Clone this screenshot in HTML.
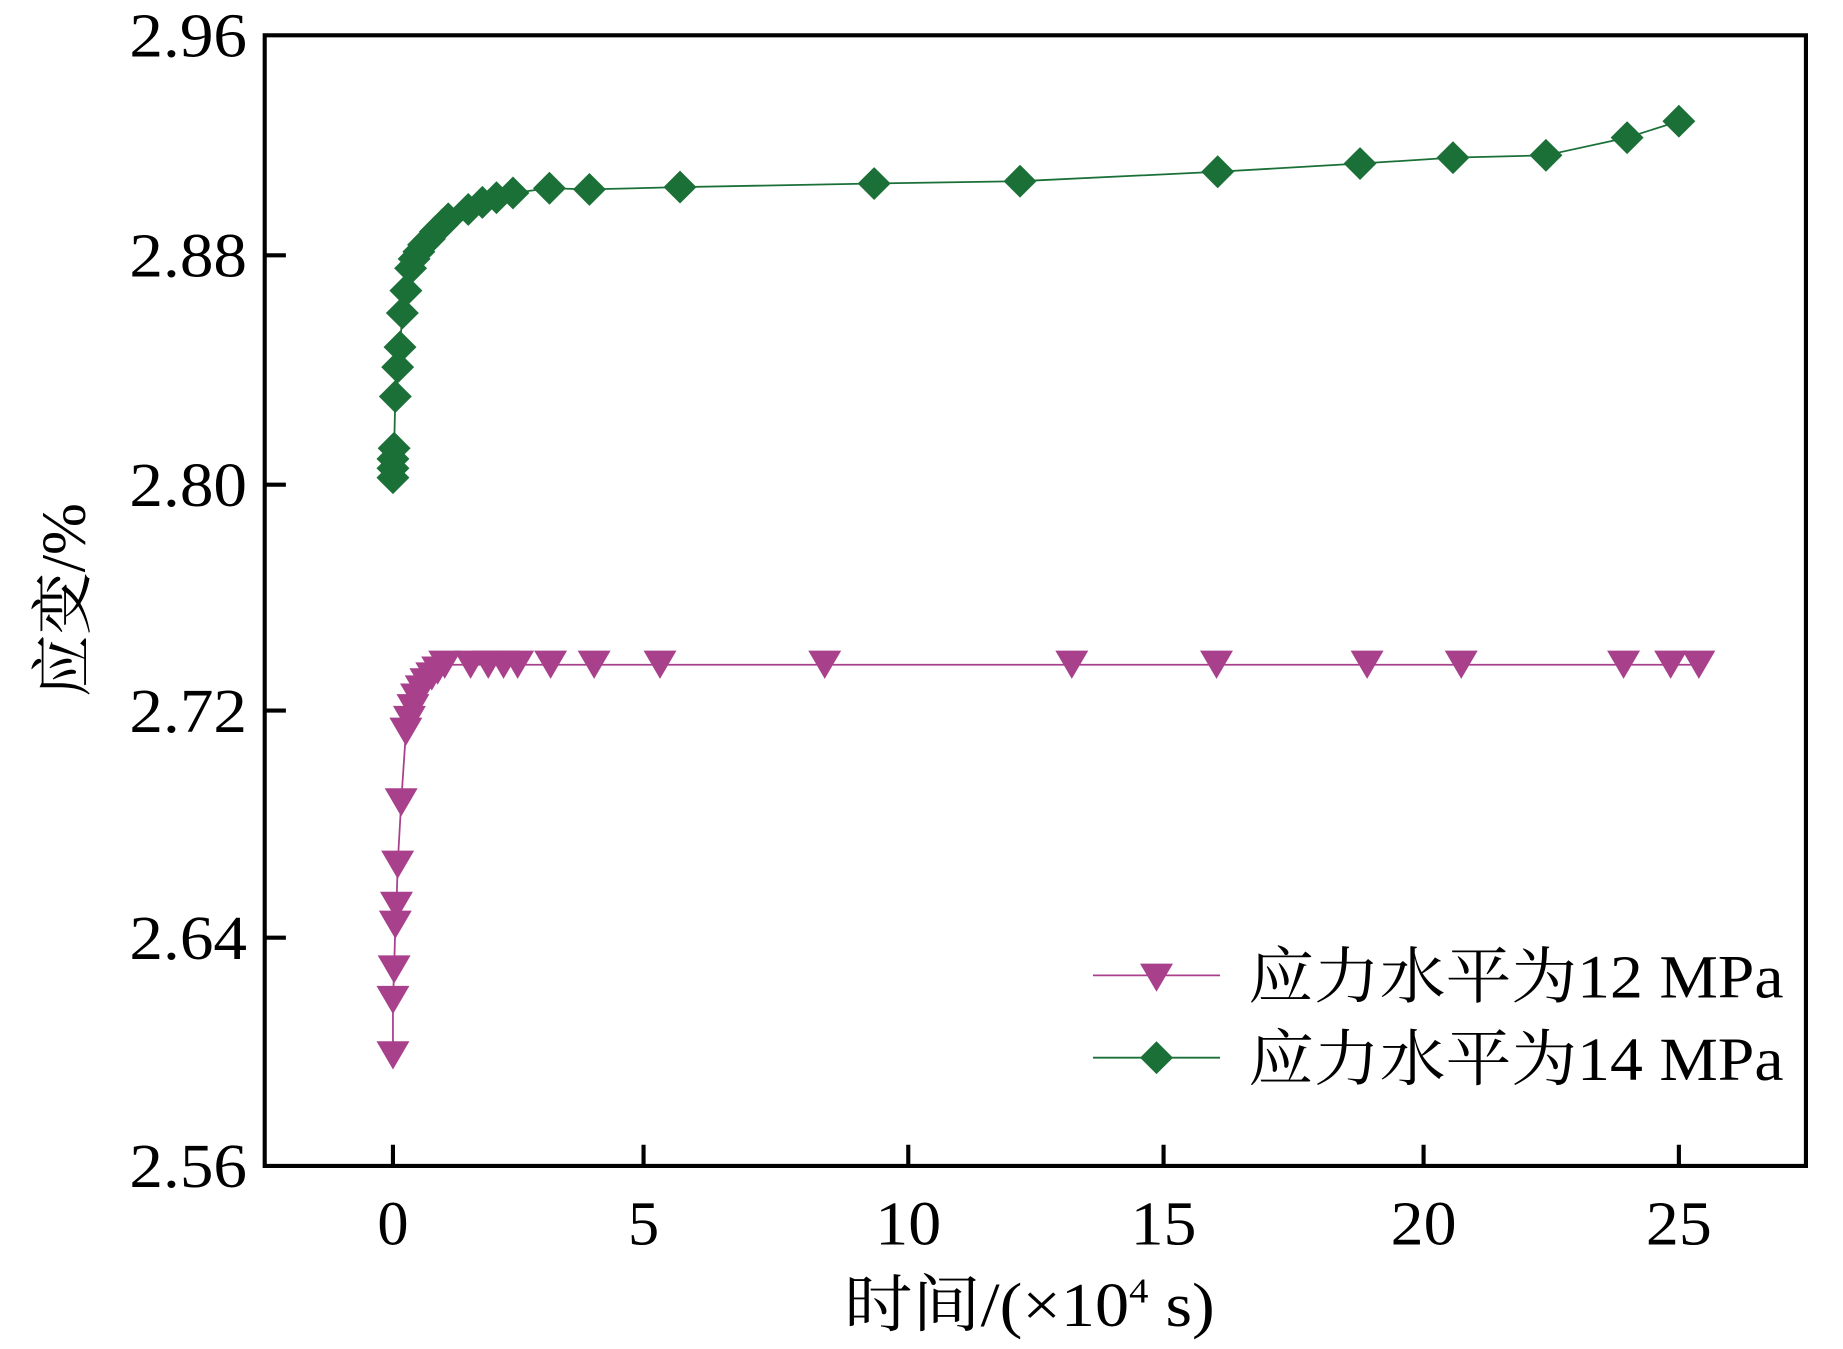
<!DOCTYPE html>
<html><head><meta charset="utf-8"><style>html,body{margin:0;padding:0;background:#fff}svg{display:block}</style></head>
<body>
<svg width="1843" height="1349" viewBox="0 0 1566.5 1146.6" xmlns="http://www.w3.org/2000/svg">
<defs>
<path id="tri" d="M-14,-12 L14,-12 L0,12 Z" fill="#a8408c"/>
<path id="dia" d="M0,-14 L14,0 L0,14 L-14,0 Z" fill="#1b7038"/>
</defs>
<g font-family="Liberation Serif, serif" font-size="53" fill="#000">
<g text-anchor="end">
<text x="210" y="48" textLength="100" lengthAdjust="spacingAndGlyphs">2.96</text>
<text x="210" y="235" textLength="100" lengthAdjust="spacingAndGlyphs">2.88</text>
<text x="210" y="430" textLength="100" lengthAdjust="spacingAndGlyphs">2.80</text>
<text x="210" y="622" textLength="100" lengthAdjust="spacingAndGlyphs">2.72</text>
<text x="210" y="815" textLength="100" lengthAdjust="spacingAndGlyphs">2.64</text>
<text x="210" y="1009" textLength="100" lengthAdjust="spacingAndGlyphs">2.56</text>
</g>
<g text-anchor="middle">
<text x="334" y="1058">0</text>
<text x="547" y="1058">5</text>
<text x="772" y="1058" textLength="56" lengthAdjust="spacingAndGlyphs">10</text>
<text x="989" y="1058" textLength="56" lengthAdjust="spacingAndGlyphs">15</text>
<text x="1210" y="1058" textLength="56" lengthAdjust="spacingAndGlyphs">20</text>
<text x="1427" y="1058" textLength="56" lengthAdjust="spacingAndGlyphs">25</text>
</g>
<text x="875" y="1127" text-anchor="middle" font-family="Liberation Serif, 'Noto Serif CJK SC', serif" textLength="315" lengthAdjust="spacingAndGlyphs">时间/(×10<tspan font-size="30" dy="-20">4</tspan><tspan dy="20"> s)</tspan></text>
<text transform="translate(72,510) rotate(-90)" text-anchor="middle" font-family="Liberation Serif, 'Noto Serif CJK SC', serif">应变/%</text>
</g>
<g stroke="#000" stroke-width="3.5">
<rect x="225" y="30" width="1310" height="961" fill="none"/>
<path d="M225,217h18M225,412h18M225,604h18M225,797h18M547,991v-18M772,991v-18M989,991v-18M1210,991v-18M1427,991v-18M334,991v-18"/>
</g>
<polyline fill="none" stroke="#1b7038" stroke-width="1.5" points="334,406 334,398 334,390 335,381 336,337 338,312 340,295 342,266 345,247 349,228 352,220 356,214 360,208 365,203 370,197 376,191 381,186 398,178 410,172 422,168 436,164 467,160 501,161 578,159 743,156 867,154 1035,146 1156,139 1235,134 1314,132 1383,117 1427,103"/>
<g>
<use href="#dia" x="334" y="406"/><use href="#dia" x="334" y="398"/><use href="#dia" x="334" y="390"/><use href="#dia" x="335" y="381"/><use href="#dia" x="336" y="337"/><use href="#dia" x="338" y="312"/><use href="#dia" x="340" y="295"/><use href="#dia" x="342" y="266"/><use href="#dia" x="345" y="247"/><use href="#dia" x="349" y="228"/><use href="#dia" x="352" y="220"/><use href="#dia" x="356" y="214"/><use href="#dia" x="360" y="208"/><use href="#dia" x="365" y="203"/><use href="#dia" x="370" y="197"/><use href="#dia" x="376" y="191"/><use href="#dia" x="381" y="186"/><use href="#dia" x="398" y="178"/><use href="#dia" x="410" y="172"/><use href="#dia" x="422" y="168"/><use href="#dia" x="436" y="164"/><use href="#dia" x="467" y="160"/><use href="#dia" x="501" y="161"/><use href="#dia" x="578" y="159"/><use href="#dia" x="743" y="156"/><use href="#dia" x="867" y="154"/><use href="#dia" x="1035" y="146"/><use href="#dia" x="1156" y="139"/><use href="#dia" x="1235" y="134"/><use href="#dia" x="1314" y="132"/><use href="#dia" x="1383" y="117"/><use href="#dia" x="1427" y="103"/>
</g>
<polyline fill="none" stroke="#a8408c" stroke-width="1.5" points="334,897 334,850 335,824 336,786 337,770 338,735 341,682 345,622 348,612 351,602 354,593 358,586 362,580 367,575 372,570 378,565 400,565 415,565 428,565 440,565 468,565 505,565 561,565 701,565 911,565 1034,565 1162,565 1242,565 1380,565 1420,565 1444,565"/>
<g>
<use href="#tri" x="334" y="897"/><use href="#tri" x="334" y="850"/><use href="#tri" x="335" y="824"/><use href="#tri" x="336" y="786"/><use href="#tri" x="337" y="770"/><use href="#tri" x="338" y="735"/><use href="#tri" x="341" y="682"/><use href="#tri" x="345" y="622"/><use href="#tri" x="348" y="612"/><use href="#tri" x="351" y="602"/><use href="#tri" x="354" y="593"/><use href="#tri" x="358" y="586"/><use href="#tri" x="362" y="580"/><use href="#tri" x="367" y="575"/><use href="#tri" x="372" y="570"/><use href="#tri" x="378" y="565"/><use href="#tri" x="400" y="565"/><use href="#tri" x="415" y="565"/><use href="#tri" x="428" y="565"/><use href="#tri" x="440" y="565"/><use href="#tri" x="468" y="565"/><use href="#tri" x="505" y="565"/><use href="#tri" x="561" y="565"/><use href="#tri" x="701" y="565"/><use href="#tri" x="911" y="565"/><use href="#tri" x="1034" y="565"/><use href="#tri" x="1162" y="565"/><use href="#tri" x="1242" y="565"/><use href="#tri" x="1380" y="565"/><use href="#tri" x="1420" y="565"/><use href="#tri" x="1444" y="565"/>
</g>
<line x1="929" y1="829" x2="1037" y2="829" stroke="#a8408c" stroke-width="1.5"/>
<use href="#tri" x="983" y="831"/>
<line x1="929" y1="899" x2="1037" y2="899" stroke="#1b7038" stroke-width="1.5"/>
<use href="#dia" x="983" y="899"/>
<g font-family="Liberation Serif, 'Noto Serif CJK SC', serif" font-size="52" fill="#000">
<text x="1061" y="848" textLength="455" lengthAdjust="spacingAndGlyphs">应力水平为12 MPa</text>
<text x="1061" y="918" textLength="455" lengthAdjust="spacingAndGlyphs">应力水平为14 MPa</text>
</g>
</svg>
</body></html>
